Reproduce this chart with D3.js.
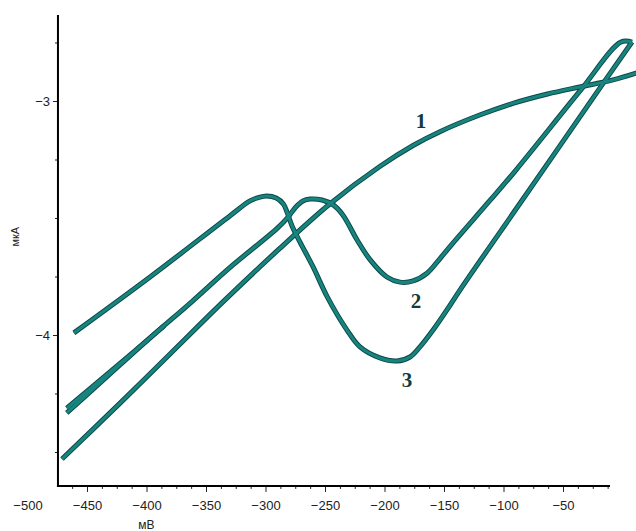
<!DOCTYPE html>
<html>
<head>
<meta charset="utf-8">
<script src="https://cdn.jsdelivr.net/npm/d3@7/dist/d3.min.js"></script>
<style>
  html, body { margin: 0; padding: 0; background: #fff; }
  svg { display: block; }
</style>
</head>
<body>
<svg id="chart" width="636" height="531"></svg>
<script>
// Potential, mV
const curve1X = [-471, -422, -380, -334, -288, -246, -204, -176, -153, -120, -92, -63, -36, -8, 12];
// log current
const curve1Y = [-4.53, -4.29, -4.08, -3.85, -3.63, -3.44, -3.28, -3.19, -3.13, -3.06, -3.01, -2.97, -2.94, -2.91, -2.88];

const curve2X = [-467, -439, -397, -362, -330, -290, -281, -274.5, -268.5, -262.5, -252.5, -243, -235, -223, -212, -198, -187, -176, -164, -153, -142.5, -111, -89.5, -35.7, -1.3, 8];
const curve2Y = [-4.333, -4.205, -4.012, -3.858, -3.712, -3.543, -3.496, -3.453, -3.427, -3.419, -3.423, -3.444, -3.487, -3.594, -3.679, -3.752, -3.774, -3.769, -3.735, -3.671, -3.607, -3.423, -3.295, -2.957, -2.748, -2.748];

// second trace of curve 2 running alongside its cathodic branch
const curve2bX = [-467, -430, -385];
const curve2bY = [-4.313, -4.155, -3.960];

const curve3X = [-461, -397, -330, -313, -306, -299, -291, -285, -282, -277.7, -271, -260, -248, -231.5, -220.6, -203.8, -189.5, -178.6, -170.2, -159.2, -147.5, -136.6, -83.6, -18.9, 8];
const curve3Y = [-3.991, -3.752, -3.491, -3.427, -3.413, -3.406, -3.415, -3.440, -3.474, -3.534, -3.603, -3.709, -3.838, -3.979, -4.051, -4.098, -4.111, -4.094, -4.051, -3.979, -3.893, -3.808, -3.419, -2.944, -2.748];

const xTickLabels = [-500, -450, -400, -350, -300, -250, -200, -150, -100, -50];
const yTickLabels = [-4, -3];
const curveNames = ["1", "2", "3"];
const labelX = [-169.3, -173.5, -181.1];
const labelY = [-3.115, -3.885, -4.222];

const svg = d3.select("#chart");
const x = d3.scaleLinear().domain([-500, 0]).range([27.5, 622.5]);
const y = d3.scaleLinear().domain([-4, -3]).range([335, 101]);

const xMin = -474.4, xMax = -10.5;
const yMin = -4.645, yMax = -2.632;
const axisY = y(yMin), axisX = x(xMin);

// minor / major ticks
const xMinor = d3.range(-462.5, xMax, 12.5);
const yMinor = d3.range(-4.5, yMax, 0.25);

const gx = svg.append("g").attr("transform", `translate(0,${axisY})`);
gx.call(d3.axisBottom(x).tickValues(xMinor.filter(v => v % 50 !== 0)).tickSize(3).tickFormat(""));
gx.append("g").call(d3.axisBottom(x).tickValues(xTickLabels.filter(v => v > xMin)).tickSize(6).tickFormat(""));
gx.selectAll(".domain").remove();
gx.selectAll("line").attr("stroke", "#222").attr("stroke-width", 1);

const gxl = svg.append("g").attr("transform", `translate(0,${axisY})`)
  .call(d3.axisBottom(x).tickValues(xTickLabels).tickSize(0).tickPadding(15).tickFormat(d3.format("d")));
gxl.select(".domain").remove();
gxl.selectAll("text").attr("font-family", "Liberation Sans, Arial, sans-serif").attr("font-size", 13).attr("fill", "#222");

const gy = svg.append("g").attr("transform", `translate(${axisX},0)`);
gy.call(d3.axisLeft(y).tickValues(yMinor.filter(v => Math.abs(v - Math.round(v)) > 1e-6)).tickSize(3).tickFormat(""));
gy.append("g").call(d3.axisLeft(y).tickValues(yTickLabels).tickSize(5).tickPadding(3).tickFormat(d3.format("d")));
gy.selectAll(".domain").remove();
gy.selectAll("line").attr("stroke", "#222").attr("stroke-width", 1);
gy.selectAll("text").attr("font-family", "Liberation Sans, Arial, sans-serif").attr("font-size", 13).attr("fill", "#222");

// axis lines
svg.append("line").attr("x1", axisX).attr("x2", axisX).attr("y1", y(yMax)).attr("y2", axisY + 1)
  .attr("stroke", "#000").attr("stroke-width", 2);
svg.append("line").attr("x1", axisX - 1).attr("x2", x(xMax)).attr("y1", axisY).attr("y2", axisY)
  .attr("stroke", "#000").attr("stroke-width", 2);

// axis titles
svg.append("text").attr("x", x(-400)).attr("y", 529).attr("text-anchor", "middle")
  .attr("font-family", "Liberation Sans, Arial, sans-serif").attr("font-size", 12).attr("fill", "#222").text("мВ");
svg.append("text").attr("transform", `translate(19,${y(-3.58)}) rotate(-90)`).attr("text-anchor", "middle")
  .attr("font-family", "Liberation Sans, Arial, sans-serif").attr("font-size", 11).attr("fill", "#222").text("мкА");

// curves: dark outline pass, then teal core pass
const series = [
  d3.zip(curve1X, curve1Y),
  d3.zip(curve2bX, curve2bY),
  d3.zip(curve2X, curve2Y),
  d3.zip(curve3X, curve3Y)
];
const line = d3.line().x(d => x(d[0])).y(d => y(d[1])).curve(d3.curveCatmullRom.alpha(0.5));

const outline = svg.append("g");
const core = svg.append("g");
series.forEach(s => {
  outline.append("path").attr("d", line(s)).attr("fill", "none")
    .attr("stroke", "#0c4846").attr("stroke-width", 5).attr("stroke-linejoin", "round");
});
series.forEach(s => {
  core.append("path").attr("d", line(s)).attr("fill", "none")
    .attr("stroke", "#17847f").attr("stroke-width", 3.1).attr("stroke-linejoin", "round");
});

// curve numbers
svg.append("g").selectAll("text").data(curveNames).join("text")
  .attr("x", (d, i) => x(labelX[i])).attr("y", (d, i) => y(labelY[i]))
  .attr("text-anchor", "middle")
  .attr("font-family", "Liberation Serif, Times New Roman, serif").attr("font-weight", "bold")
  .attr("font-size", 21).attr("fill", "#123c3c")
  .text(d => d);
</script>
</body>
</html>
